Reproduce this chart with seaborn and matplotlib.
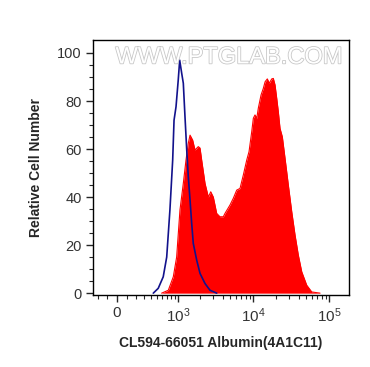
import numpy as np
import pandas as pd
import matplotlib
matplotlib.use("Agg")
import matplotlib.pyplot as plt
import matplotlib.patheffects as pe
from matplotlib.ticker import FixedLocator, FixedFormatter
import seaborn as sns

sns.set_style("ticks")
plt.rcParams['font.family'] = ['Liberation Sans', 'DejaVu Sans']
plt.rcParams['mathtext.fontset'] = 'custom'
plt.rcParams['mathtext.rm'] = 'Liberation Sans'
plt.rcParams['mathtext.it'] = 'Liberation Sans'

# isotype control (blue outline)
ctrl_x = [433, 519, 618, 695, 773, 846, 884, 942, 1011, 1059, 1129, 1187, 1251, 1321,
          1387, 1464, 1541, 1619, 1797, 1993, 2322, 2705, 3315]
ctrl_y = [0, 2, 6.8, 15, 34.6, 55.4, 72, 77.6, 88.7, 97, 91.5, 87.4, 73.5, 59.6,
          48.5, 38.8, 29, 20.7, 13.8, 8.2, 4, 1.2, 0]

# CL594-66051 stained sample (red filled)
samp_x = [585, 733, 863, 961, 1068, 1187, 1291, 1387, 1464, 1589, 1706, 1889, 1993, 2096,
          2322, 2570, 2764, 2991, 3315, 3661, 4050, 4264, 4967, 5492, 6091, 6730, 7440,
          8246, 8842, 9594, 10077, 10595, 11178, 11717, 12726, 13650, 14386, 15389, 16350,
          17593, 18465, 19440, 20470, 21490, 22615, 24260, 26340, 29100, 32260, 35650,
          39400, 43670, 50800, 59130, 76050]
samp_y = [0, 1.2, 6.8, 15, 34.6, 45.7, 55.4, 62.4, 65.8, 63.7, 59.6, 61, 60.4, 55.4,
          45.7, 40, 42.2, 40, 33.2, 31.8, 31.8, 33.2, 36.7, 39.5, 42.9, 43.6, 49.2,
          55.4, 58.9, 67.2, 72.8, 74.2, 72.8, 77, 82.5, 85.3, 88, 89.2, 87.4,
          89.2, 89.4, 86.7, 81.1, 75.5, 68.6, 65.1, 56.1, 45, 33.9, 24.2,
          15.8, 8.9, 3.3, 0.5, 0]

xtick_vals = [0, 1e3, 1e4, 1e5]
xtick_labels = ['0', '$10^3$', '$10^4$', '$10^5$']

C = 324.0
fwd = lambda v: np.arcsinh(np.asarray(v, dtype=float) / C)
inv = lambda u: C * np.sinh(u)

fig = plt.figure(figsize=(3.70, 3.67), dpi=100)
ax = fig.add_axes([0.2514, 0.196, 0.692, 0.695])
ax.set_xscale('function', functions=(fwd, inv))

ctrl = pd.DataFrame({'x': ctrl_x, 'y': ctrl_y})
samp = pd.DataFrame({'x': samp_x, 'y': samp_y})

ax.fill_between(samp['x'], 0, samp['y'], color='#ff0000', lw=0, zorder=2)
sns.lineplot(data=samp, x='x', y='y', ax=ax, color='#ff0000', lw=0.8, zorder=2)
sns.lineplot(data=ctrl, x='x', y='y', ax=ax, color='#12128c', lw=1.2, zorder=3)

ax.set_xlim(-256, 183000)
ax.set_ylim(-0.8, 105.4)

minor = [-200, -100, 100, 200, 300, 400, 500, 600, 700, 800, 900]
minor += [k * 1e3 for k in range(2, 10)] + [k * 1e4 for k in range(2, 10)] + [k * 1e5 for k in (2, 3)]
ax.xaxis.set_major_locator(FixedLocator(xtick_vals))
ax.xaxis.set_major_formatter(FixedFormatter(xtick_labels))
ax.xaxis.set_minor_locator(FixedLocator(minor))
ax.set_yticks([0, 20, 40, 60, 80, 100])
ax.set_yticks(np.arange(0, 105, 5), minor=True)

ax.tick_params(which='major', length=5, width=1, labelsize=10.5, labelcolor='#333333', pad=3)
ax.tick_params(axis='x', which='major', labelsize=11)
ax.tick_params(which='minor', length=3, width=0.8)
for s in ax.spines.values():
    s.set_linewidth(1)
    s.set_color('black')

ax.set_xlabel('CL594-66051 Albumin(4A1C11)', fontsize=10, fontweight='bold', labelpad=8)
ax.set_ylabel('Relative Cell Number', fontsize=10, fontweight='bold', labelpad=10)

ax.text(0.53, 0.975, 'WWW.PTGLAB.COM', transform=ax.transAxes, ha='center', va='top',
        fontsize=17, color='white', zorder=4,
        path_effects=[pe.withStroke(linewidth=1.2, foreground='#c8c8c8')])

fig.savefig('out.png', dpi=100)
